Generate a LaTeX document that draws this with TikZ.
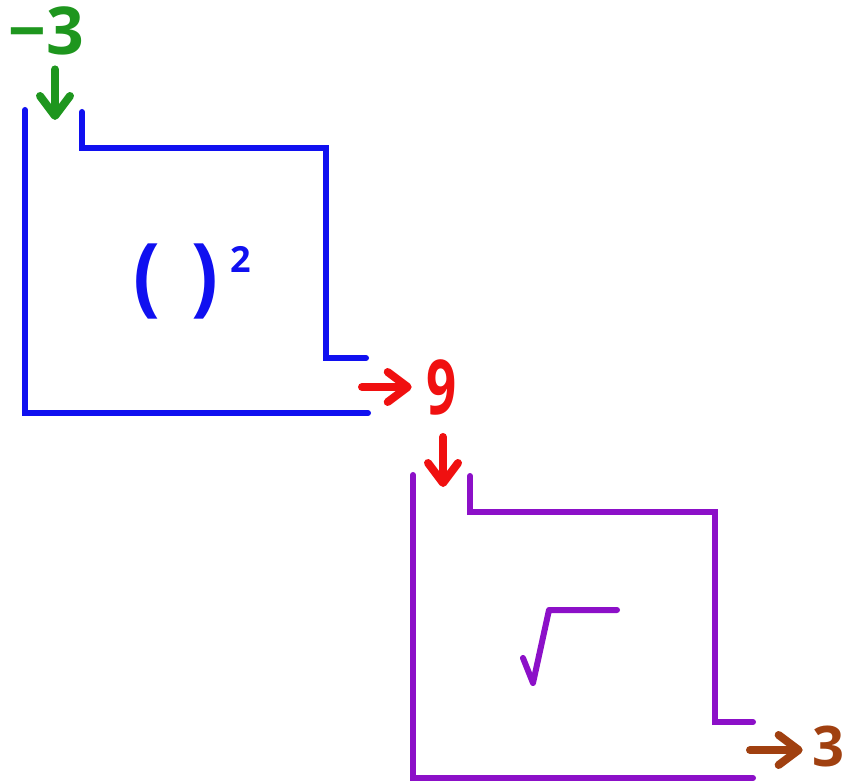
\documentclass[tikz,border=0pt]{standalone}
\usepackage{fontspec}
\setmainfont{Open Sans}
\usetikzlibrary{arrows.meta}

\definecolor{sqblue}{RGB}{16,16,240}
\definecolor{rootpurple}{RGB}{140,16,200}
\definecolor{ingreen}{RGB}{30,150,30}
\definecolor{midred}{RGB}{240,16,16}
\definecolor{outbrown}{RGB}{160,64,16}

\tikzset{
  machine/.style={line width=6pt, line cap=round, line join=miter},
  flow/.style={line width=8pt, line cap=round,
    -{Straight Barb[length=20pt,width=30pt,line cap=round,line join=round]}},
  numlabel/.style={inner sep=0pt, font=\bfseries\fontsize{66}{66}\selectfont},
}

\begin{document}
\begin{tikzpicture}[x=1pt,y=-1pt]
\useasboundingbox (0,0) rectangle (848,783);

% squaring machine
\draw[machine, sqblue] (25,110) -- (25,413) -- (368,413);
\draw[machine, sqblue] (82,112) -- (82,148) -- (326,148) -- (326,358) -- (366,358);
\node[inner sep=0pt, text=sqblue, font=\bfseries\fontsize{72}{72}\selectfont] (sq) at (176,281)
  {\scalebox{1.1}[1.2]{(\hspace{28pt})}};
\node[inner sep=0pt, text=sqblue, font=\bfseries\fontsize{36}{36}\selectfont] (sqexp) at (241,259) {2};

% square-root machine
\draw[machine, rootpurple] (413,475) -- (413,778) -- (753,778);
\draw[machine, rootpurple] (470,476) -- (470,512) -- (715,512) -- (715,722) -- (753,722);
\draw[machine, rootpurple, line join=round] (523,658) -- (533,683) -- (549,610) -- (617,610);

% values passed through
\node[numlabel, text=ingreen] (m3) at (46,31) {−3};
\node[numlabel, text=midred] (nine) at (442,387) {\scalebox{0.8}[1.15]{9}};
\node[numlabel, text=outbrown, anchor=east, font=\bfseries\fontsize{56}{56}\selectfont] (res) at (845,746) {3};

\coordinate (in1) at (55,120);
\coordinate (out1) at (362,387);
\coordinate (in2) at (443,487);
\coordinate (out2) at (750,750);

\draw[flow, ingreen] (in1 |- m3.south) ++(0,14) -- (in1);
\draw[flow, midred] (out1) -- (nine) [shorten >=15pt];
\draw[flow, midred] (in2 |- nine.south) ++(0,22) -- (in2);
\draw[flow, outbrown] (out2) -- (out2 -| res.west) [shorten >=10pt];
\end{tikzpicture}
\end{document}
